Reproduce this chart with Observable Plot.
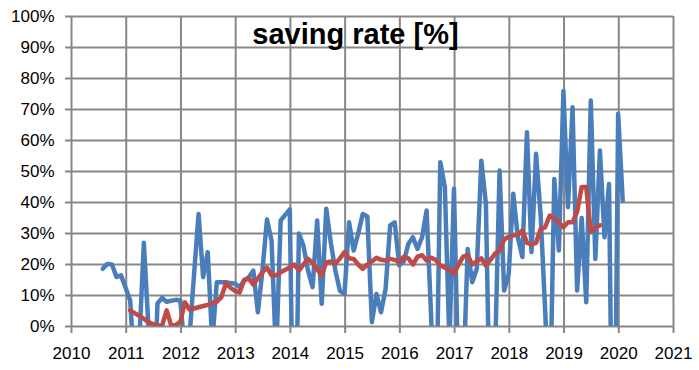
<!DOCTYPE html>
<html><head><meta charset="utf-8">
<script src="https://cdn.jsdelivr.net/npm/d3@7"></script>
<script src="https://cdn.jsdelivr.net/npm/@observablehq/plot@0.6"></script>
<style>body{margin:0;background:#fff}</style></head>
<body><div id="chart"></div>
<script>
const titleText = "saving rate [%]";
const firstMonth = 2010.572; // decimal year of the first monthly observation
const yearTicks = [2010, 2011, 2012, 2013, 2014, 2015, 2016, 2017, 2018, 2019, 2020, 2021];
const pctTicks = [0, 10, 20, 30, 40, 50, 60, 70, 80, 90, 100];

// monthly saving rate (%), values below 0 are clipped by the axis
const blueValues = [
  18.6, 20.2, 20, 16, 16.5, 12.5, 8.4, -15, -5, 27,
  0, -30, 7.5, 9.2, 8, 8.3, 8.6, 8.4, -9, -3.5,
  16.6, 36.3, 15.9, 24, -5, 14.3, 14.3, 14.3, 14, 13.8,
  12.7, 14.8, 15.9, 18, 4.6, 18, 34.5, 27.7, -10, 34.2,
  36, 37.8, -60, 30, 26, 18, 12.7, 34.2, 7.3, 38,
  27, 18, 11.5, 10.5, 33.6, 24.5, 30, 36.3, 35.5, 1.4,
  10.5, 4.6, 12, 32.6, 33.6, 19.7, 21, 26.7, 28.8, 25,
  28.8, 37.4, 3, -40, 53, 45, -5, 44.4, -20, -20,
  25, 14.3, 18.6, 53.5, 39.6, -40, -10, 50.3, 11.6, 17,
  42.8, 28.8, 22.4, 62.7, 24, 55.7, 36, 5, -30, 47.6,
  24.5, 76, 38.5, 70.7, 11.6, 35, 7.8, 72.9, 21.8, 56.8,
  28.8, 46, -80, 68.6, 40.6
];

// moving average (%), starting at the 7th month
const redFirstIndex = 6;
const redValues = [
  5.2, 4.3, 3.5, 2.5, 1.4, 0.8, 0.3, 0.3, 5.2, 0.3,
  0.5, 1.5, 7.8, 5.5, 5.8, 6.2, 6.6, 7.0, 7.5, 8.0,
  9.5, 14, 12.5, 11.5, 11, 15, 15.5, 13.5, 15.5, 17.5,
  19, 16.5, 16.5, 17.5, 18.3, 19, 20, 18, 20, 21.8,
  20.5, 18.5, 16.5, 20.7, 21, 20.2, 22, 24, 22, 21.8,
  20, 18.6, 20, 21, 22.2, 21.5, 21.3, 21.8, 21.5, 20.7,
  22.5, 22, 20, 22.5, 23, 21.3, 22.2, 21.5, 19.7, 19,
  18.3, 17, 20, 22.5, 23, 20, 21, 22, 19.7, 21.5,
  23.5, 24.5, 28, 29, 29.4, 29.5, 31, 27, 26.5, 27,
  31.5, 32, 35.8, 35, 33.5, 32, 33.6, 33.6, 37, 45,
  45, 30.5, 32, 32.6
];

const blue = blueValues.map((v, i) => ({x: firstMonth + i / 12, y: v}));
const red = redValues.map((v, i) => ({x: firstMonth + (i + redFirstIndex) / 12, y: v}));

const gridColor = "#878787";
const chart = Plot.plot({
  width: 699, height: 370,
  marginLeft: 71, marginRight: 26, marginTop: 16, marginBottom: 44,
  style: {fontFamily: "'Liberation Sans', Arial, sans-serif", background: "#fff", color: "#000"},
  x: {domain: [2010, 2021], label: null},
  y: {domain: [0, 100], label: null},
  marks: [
    Plot.gridX(yearTicks, {stroke: gridColor, strokeOpacity: 1, strokeWidth: 2}),
    Plot.gridY(pctTicks, {stroke: gridColor, strokeOpacity: 1, strokeWidth: 2}),
    Plot.axisX(yearTicks, {label: null, tickSize: 7, tickPadding: 13, fontSize: 17, stroke: gridColor, strokeWidth: 2, fill: "#000", tickFormat: d => String(d)}),
    Plot.axisY(pctTicks, {label: null, tickSize: 6, tickPadding: 11, fontSize: 17, stroke: gridColor, strokeWidth: 2, fill: "#000", tickFormat: d => d + "%"}),
    Plot.line(blue, {x: "x", y: "y", stroke: "#4A7EBB", strokeWidth: 4.5, strokeLinejoin: "round", strokeLinecap: "round", clip: true}),
    Plot.line(red, {x: "x", y: "y", stroke: "#BE4B48", strokeWidth: 4.5, strokeLinejoin: "round", strokeLinecap: "round", clip: true}),
    Plot.text([titleText], {frameAnchor: "top", dx: -17, dy: 18, lineAnchor: "middle", fontSize: 29, fontWeight: "bold", fill: "#000"})
  ]
});
document.getElementById("chart").appendChild(chart);
</script>
</body></html>
